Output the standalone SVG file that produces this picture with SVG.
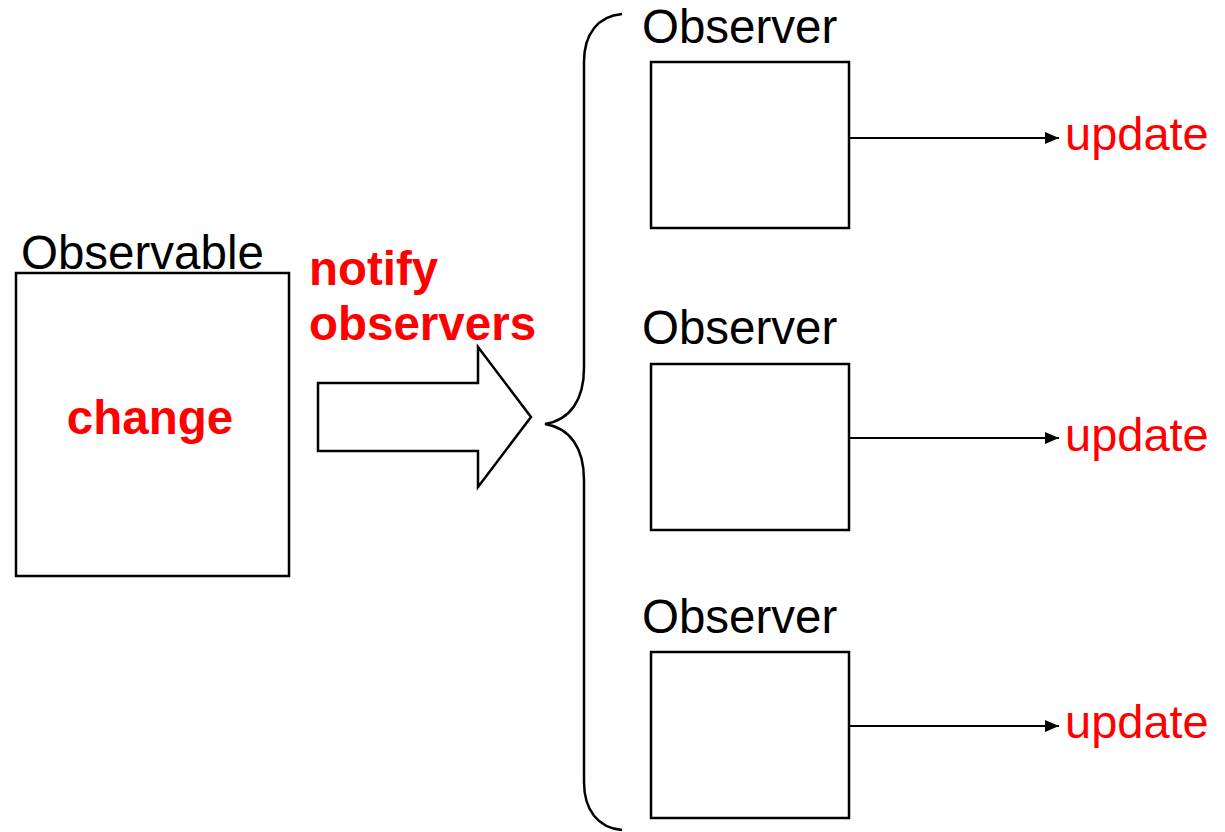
<svg xmlns="http://www.w3.org/2000/svg" width="1225" height="832" viewBox="0 0 1225 832">
  <style>
    .box { fill: #ffffff; stroke: #000000; stroke-width: 2.5; }
    .label { font-family: "Liberation Sans", Arial, sans-serif; font-size: 47.5px; fill: #000000; }
    .red { font-family: "Liberation Sans", Arial, sans-serif; font-size: 47px; fill: #ff0000; }
    .bold { font-weight: bold; font-size: 47.5px; }
    .link { fill: none; stroke: #000000; stroke-width: 2; }
  </style>
  <defs>
    <marker id="head" viewBox="0 0 14 12" refX="14" refY="6" markerWidth="14" markerHeight="12" markerUnits="userSpaceOnUse" orient="auto">
      <path d="M0,0 L14,6 L0,12 Z" fill="#000000"/>
    </marker>
  </defs>

  <rect width="1225" height="832" fill="#ffffff"/>

  <!-- subject -->
  <g id="observable">
    <text class="label" x="21" y="269">Observable</text>
    <rect class="box" x="16" y="273" width="273" height="303"/>
    <text class="red bold" x="150" y="434" text-anchor="middle">change</text>
  </g>

  <!-- notification -->
  <g id="notify">
    <text class="red bold" x="309" y="285">notify</text>
    <text class="red bold" x="309" y="340">observers</text>
    <path class="box" d="M318,383 L478,383 L478,347 L531,417 L478,487 L478,451 L318,451 Z"/>
  </g>

  <!-- brace grouping the observers -->
  <g id="brace">
    <path fill="none" stroke="#000000" stroke-width="2.5" d="M622,14 C598,16 584,34 584,62 L584,368 C584,400 570,420 545,424 C570,428 584,448 584,480 L584,782 C584,810 598,828 622,830"/>
  </g>

  <g id="observer1">
    <text class="label" x="642" y="43">Observer</text>
    <rect class="box" x="651" y="62" width="198" height="166"/>
    <text class="red" x="1065" y="150">update</text>
  </g>

  <g id="observer2">
    <text class="label" x="642" y="344">Observer</text>
    <rect class="box" x="651" y="364" width="198" height="166"/>
    <text class="red" x="1065" y="451">update</text>
  </g>

  <g id="observer3">
    <text class="label" x="642" y="633">Observer</text>
    <rect class="box" x="651" y="652" width="198" height="166"/>
    <text class="red" x="1065" y="738">update</text>
  </g>

  <g id="connectors">
    <line class="link" x1="849" y1="138" x2="1059" y2="138" marker-end="url(#head)"/>
    <line class="link" x1="849" y1="438" x2="1059" y2="438" marker-end="url(#head)"/>
    <line class="link" x1="849" y1="726" x2="1059" y2="726" marker-end="url(#head)"/>
  </g>
</svg>
